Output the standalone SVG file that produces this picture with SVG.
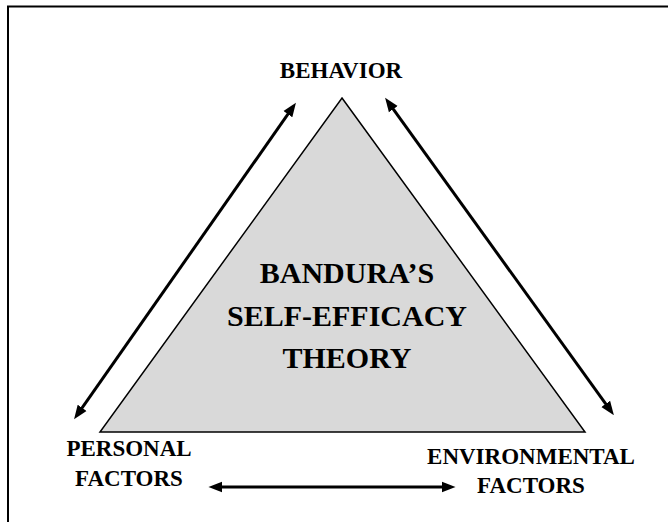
<svg xmlns="http://www.w3.org/2000/svg" width="668" height="522" viewBox="0 0 668 522">
  <style>
    .lbl { font-family: "Liberation Serif", "Times New Roman", serif; font-weight: bold; fill: #000; text-anchor: middle; }
    .side { font-size: 23px; }
    .center { font-size: 30px; }
    .conn { stroke: #000; stroke-width: 3; fill: none; marker-start: url(#ah); marker-end: url(#ah); }
  </style>
  <defs>
    <marker id="ah" markerUnits="userSpaceOnUse" markerWidth="14" markerHeight="12" refX="6" refY="5" orient="auto-start-reverse" viewBox="0 0 13 10">
      <path d="M0,0 L13,5 L0,10 z" fill="#000"/>
    </marker>
  </defs>
  <rect x="0" y="0" width="668" height="522" fill="#fff"/>
  <path d="M8,522 V6.5 H668" fill="none" stroke="#000" stroke-width="2"/>
  <g id="theory">
    <polygon points="342,98 585,432 100,432" fill="#d9d9d9" stroke="#000" stroke-width="1.5"/>
    <text class="lbl center" x="347" y="283">BANDURA’S</text>
    <text class="lbl center" x="347" y="326">SELF-EFFICACY</text>
    <text class="lbl center" x="347" y="368">THEORY</text>
  </g>
  <g id="behavior">
    <text class="lbl side" x="341" y="78">BEHAVIOR</text>
  </g>
  <g id="personal">
    <text class="lbl side" x="129" y="456">PERSONAL</text>
    <text class="lbl side" x="129" y="486">FACTORS</text>
  </g>
  <g id="environmental">
    <text class="lbl side" x="531" y="464">ENVIRONMENTAL</text>
    <text class="lbl side" x="531" y="493">FACTORS</text>
  </g>
  <g id="connectors">
    <line class="conn" x1="78.4" y1="413.1" x2="291.6" y2="108.9"/>
    <line class="conn" x1="389.5" y1="103.9" x2="609.5" y2="409.1"/>
    <line class="conn" x1="216" y1="487" x2="448" y2="487"/>
  </g>
</svg>
